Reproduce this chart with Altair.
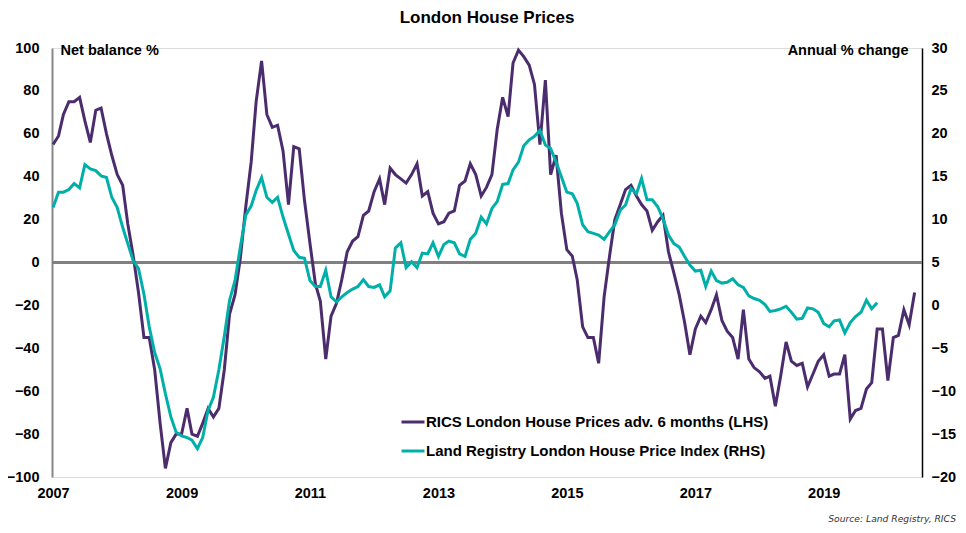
import altair as alt
import pandas as pd

# RICS London house prices expectations (net balance %), monthly from Jan 2007
rics = [55, 59, 69, 75, 75, 77, 66, 56, 71, 72, 60, 50,
        41, 36, 18, 3, -14, -35, -35, -50, -75, -96, -84, -80,
        -80, -68, -80, -81, -75, -68, -72, -68, -50, -24, -15, 2,
        26, 47, 75, 94, 69, 63, 64, 52, 27, 54, 53, 29,
        9, -10, -18, -45, -25, -19, -8, 5, 10, 12, 22, 24,
        33, 39, 27, 44, 41, 39, 37, 41, 46, 31, 33, 23,
        18, 19, 23, 24, 36, 38, 46, 41, 31, 35, 41, 62,
        77, 68, 93, 99, 96, 92, 83, 55, 85, 41, 50, 23,
        6, 3, -8, -30, -35, -35, -47, -16, 3, 20, 27, 34,
        36, 31, 27, 24, 15, 19, 22, 5, -5, -15, -28, -43,
        -31, -25, -28, -22, -15, -27, -32, -35, -45, -22, -45, -49,
        -51, -54, -53, -67, -53, -37, -46, -48, -47, -58, -52, -46,
        -43, -53, -52, -52, -43, -73, -69, -68, -59, -56, -31, -31,
        -55, -35, -34, -22, -29, -14]

# Land Registry London house price index, annual % change, monthly from Jan 2007
lr = [11.4, 13.2, 13.2, 13.5, 14.2, 13.7, 16.4, 15.9, 15.7, 15.1, 14.9, 12.6,
      11.4, 9.1, 7.2, 5.2, 4.3, 1.3, -2.5, -5.5, -7.4, -10.3, -13.0, -14.8,
      -15.2, -15.4, -15.7, -16.7, -15.4, -12.2, -10.7, -7.5, -3.6, 0.6, 2.9, 6.8,
      10.5, 11.6, 13.4, 14.9, 12.6, 12.0, 12.6, 10.3, 8.3, 6.4, 5.6, 5.5,
      2.9, 2.2, 2.2, 4.1, 1.0, 0.4, 1.0, 1.5, 1.9, 2.2, 3.0, 2.2,
      2.1, 2.4, 1.0, 1.7, 6.7, 7.3, 4.4, 5.1, 4.4, 6.1, 6.0, 7.3,
      5.7, 7.1, 7.5, 7.3, 6.0, 5.7, 7.7, 8.4, 10.3, 9.5, 11.3, 12.1,
      14.1, 14.2, 15.8, 16.7, 18.6, 19.3, 19.7, 20.4, 18.7, 18.3, 16.7, 15.0,
      13.2, 13.0, 11.9, 9.4, 8.6, 8.4, 8.2, 7.7, 8.6, 9.4, 11.1, 11.7,
      13.6, 13.0, 14.8, 12.3, 12.3, 11.5, 10.1, 8.2, 7.2, 6.8, 5.7, 4.7,
      4.0, 4.1, 2.2, 4.0, 2.9, 2.6, 2.7, 3.1, 2.4, 2.1, 1.1, 0.8,
      0.6, 0.1, -0.7, -0.6, -0.4, -0.1, -0.8, -1.6, -1.5, -0.3, -0.4, -0.8,
      -2.1, -2.5, -1.8, -1.7, -3.2, -2.0, -1.3, -0.8, 0.6, -0.4, 0.3]

series_names = ["RICS London House Prices adv. 6 months (LHS)",
                "Land Registry London House Price Index (RHS)"]
series_colors = ["#4B2D6E", "#00B0A8"]
left_ticks = list(range(-100, 101, 20))
right_ticks = list(range(-20, 31, 5))
year_ticks = [2007, 2009, 2011, 2013, 2015, 2017, 2019]

df_r = pd.DataFrame({"date": pd.date_range("2007-01-01", periods=len(rics), freq="MS"),
                     "value": rics, "series": series_names[0]})
df_l = pd.DataFrame({"date": pd.date_range("2007-01-01", periods=len(lr), freq="MS"),
                     "value": lr, "series": series_names[1]})
df_src = pd.DataFrame({"t": ["Source: Land Registry, RICS"]})

FONT = "Liberation Sans"
W, H = 870, 429

x_enc = alt.X(
    "date:T",
    scale=alt.Scale(domain=["2006-12-26", "2020-07-13"]),
    axis=alt.Axis(values=[alt.DateTime(year=y, month=1, date=1) for y in year_ticks],
                  format="%Y", domain=False, ticks=False, grid=False,
                  labelFont=FONT, labelFontSize=14.5, labelFontWeight="bold",
                  labelColor="black", labelPadding=9, labelFlush=False),
    title=None,
)

color_enc = alt.Color(
    "series:N",
    scale=alt.Scale(domain=series_names, range=series_colors),
    legend=alt.Legend(orient="none", legendX=348, legendY=361, title=None,
                      symbolType="stroke", symbolStrokeWidth=3, symbolSize=529,
                      labelFont=FONT, labelFontSize=15, labelFontWeight="bold",
                      labelColor="black", labelOffset=0, rowPadding=8,
                      padding=0, labelLimit=500),
)

left_y = alt.Y(
    "value:Q",
    scale=alt.Scale(domain=[-100, 100], nice=False, zero=False),
    axis=alt.Axis(values=left_ticks, orient="left", domainColor="#888888",
                  domainWidth=2, ticks=False, grid=False,
                  labelFont=FONT, labelFontSize=14.5, labelFontWeight="bold",
                  labelColor="black", labelPadding=13,
                  title="Net balance %", titleAngle=0, titleAlign="left",
                  titleBaseline="middle", titleX=8, titleY=2,
                  titleFont=FONT, titleFontSize=14.5, titleFontWeight="bold",
                  titleColor="black"),
)

right_y = alt.Y(
    "value:Q",
    scale=alt.Scale(domain=[-20, 30], nice=False, zero=False),
    axis=alt.Axis(values=right_ticks, orient="right", domainColor="black",
                  domainWidth=1.5, ticks=False, grid=False,
                  labelFont=FONT, labelFontSize=14.5, labelFontWeight="bold",
                  labelColor="black", labelPadding=9, labelAlign="left",
                  title="Annual % change", titleAngle=0, titleAlign="right",
                  titleBaseline="middle", titleX=-14, titleY=2,
                  titleFont=FONT, titleFontSize=14.5, titleFontWeight="bold",
                  titleColor="black"),
)

zero_rule = alt.Chart(df_r).mark_rule(color="#808080", strokeWidth=1.5).encode(
    y=alt.datum(0)
)

rics_line = alt.Chart(df_r).mark_line(strokeWidth=3).encode(
    x=x_enc, y=left_y, color=color_enc
)

source = alt.Chart(df_src).mark_text(
    align="right", baseline="alphabetic", font="DejaVu Sans", fontSize=9.2,
    fontStyle="italic", color="#333333"
).encode(x=alt.value(904), y=alt.value(474), text="t:N")

left_layer = alt.layer(zero_rule, rics_line, source)

lr_line = alt.Chart(df_l).mark_line(strokeWidth=3).encode(
    x=x_enc, y=right_y, color=color_enc
)

chart = alt.layer(left_layer, lr_line).resolve_scale(y="independent").properties(
    width=W, height=H,
    title=alt.TitleParams("London House Prices", font=FONT, fontSize=17,
                          fontWeight="bold", color="black", anchor="middle",
                          offset=13),
    autosize=alt.AutoSizeParams(type="none"),
    padding={"left": 44, "top": 40, "right": 36, "bottom": 47},
).configure_view(stroke=None).configure(background="white")

chart.save("out.html", embed_options={"renderer": "svg", "actions": False})
